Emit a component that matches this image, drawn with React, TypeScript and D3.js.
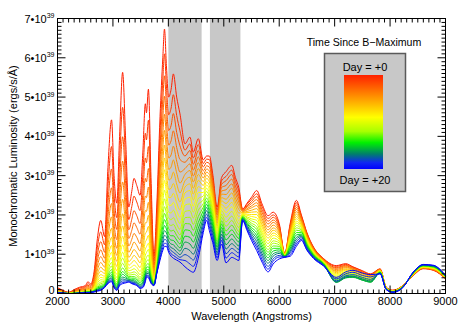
import * as d3 from 'd3'

// wavelength grid (Angstroms), shared by every spectrum
const wavelengths = [2000,2100,2200,2300,2400,2500,2550,2600,2660,2720,2780,2850,2910,2975,3020,3070,3120,3175,3230,3285,3340,3380,3430,3490,3540,3585,3605,3640,3690,3740,3790,3850,3900,3930,3965,4005,4050,4090,4150,4210,4300,4390,4450,4540,4630,4690,4740,4800,4880,4960,5040,5145,5210,5270,5340,5420,5500,5595,5690,5800,5890,6000,6100,6200,6310,6400,6500,6620,6800,7030,7200,7330,7500,7650,7820,7930,8050,8230,8420,8600,8780,9000]

// luminosity in units of 1e39 erg/s/A, one array per day after B max
const day00 = [.15,.08,.03,.10,.16,.20,.30,.24,.55,1.40,1.86,1.45,3.20,4.42,3.00,2.30,4.00,5.63,3.90,2.20,2.60,2.93,2.75,2.50,3.60,4.83,4.60,5.20,2.80,.95,2.20,4.50,6.00,6.73,5.80,5.00,5.20,5.59,5.00,4.57,3.81,3.98,3.60,3.94,3.40,3.50,3.50,3.05,2.20,2.95,3.10,3.26,2.95,2.70,2.15,2.30,2.45,2.62,2.28,1.98,2.07,1.78,1.02,1.80,2.37,2.00,1.55,1.18,.89,.71,.76,.68,.58,.50,.63,.16,.08,.20,.46,.63,.59,.37]
const day01 = [.13,.07,.03,.08,.14,.17,.25,.21,.47,1.18,1.57,1.24,2.71,3.74,2.53,1.93,3.37,4.74,3.30,1.88,2.21,2.48,2.33,2.11,3.03,4.08,3.91,4.41,2.38,.83,1.92,4.08,5.44,6.10,5.28,4.55,4.72,5.06,4.53,4.14,3.65,3.81,3.45,3.79,3.31,3.42,3.41,2.96,2.13,2.87,2.98,3.14,2.85,2.61,2.14,2.27,2.40,2.54,2.21,1.91,2.00,1.74,1.02,1.76,2.31,1.97,1.53,1.17,.88,.69,.74,.67,.57,.49,.62,.16,.08,.20,.46,.64,.60,.38]
const day02 = [.11,.06,.02,.07,.11,.15,.21,.18,.40,.99,1.32,1.05,2.30,3.17,2.13,1.63,2.85,3.99,2.80,1.62,1.89,2.11,1.98,1.78,2.55,3.45,3.33,3.74,2.03,.72,1.68,3.71,4.94,5.54,4.81,4.15,4.28,4.58,4.10,3.76,3.50,3.64,3.29,3.64,3.22,3.34,3.31,2.88,2.06,2.78,2.87,3.03,2.74,2.51,2.12,2.23,2.34,2.47,2.13,1.84,1.94,1.69,1.01,1.72,2.25,1.94,1.51,1.15,.87,.66,.72,.65,.55,.48,.62,.15,.08,.20,.47,.64,.60,.38]
const day03 = [.10,.05,.02,.06,.10,.12,.18,.15,.34,.84,1.11,.90,1.96,2.69,1.80,1.37,2.40,3.37,2.38,1.40,1.61,1.80,1.68,1.51,2.15,2.93,2.84,3.18,1.73,.64,1.49,3.37,4.49,5.02,4.38,3.78,3.89,4.14,3.72,3.41,3.34,3.47,3.14,3.48,3.12,3.25,3.22,2.79,2.00,2.70,2.75,2.91,2.64,2.42,2.11,2.20,2.29,2.39,2.06,1.77,1.87,1.65,1.01,1.67,2.19,1.90,1.48,1.14,.86,.64,.70,.64,.54,.47,.61,.15,.07,.19,.47,.65,.61,.38]
const day04 = [.08,.04,.01,.05,.08,.11,.15,.13,.29,.71,.94,.78,1.67,2.29,1.52,1.15,2.03,2.84,2.02,1.21,1.38,1.53,1.43,1.27,1.81,2.48,2.44,2.71,1.48,.56,1.32,3.07,4.08,4.56,4.00,3.45,3.53,3.75,3.37,3.09,3.18,3.30,2.99,3.33,3.03,3.17,3.12,2.70,1.93,2.61,2.64,2.79,2.54,2.33,2.09,2.16,2.23,2.31,1.98,1.69,1.81,1.60,1.00,1.63,2.14,1.87,1.46,1.12,.85,.61,.68,.62,.53,.46,.60,.15,.07,.19,.48,.65,.62,.39]
const day05 = [.07,.04,.01,.04,.07,.09,.13,.11,.24,.60,.79,.67,1.43,1.95,1.29,.97,1.72,2.40,1.72,1.05,1.19,1.31,1.22,1.08,1.53,2.11,2.09,2.32,1.27,.50,1.18,2.80,3.72,4.15,3.66,3.16,3.22,3.40,3.07,2.81,3.03,3.13,2.84,3.18,2.94,3.09,3.03,2.61,1.86,2.53,2.52,2.68,2.43,2.24,2.08,2.13,2.18,2.24,1.91,1.62,1.74,1.56,1.00,1.59,2.08,1.84,1.44,1.11,.84,.58,.66,.61,.51,.44,.60,.15,.07,.19,.48,.66,.62,.39]
const day06 = [.06,.03,.01,.03,.06,.08,.11,.10,.21,.50,.67,.58,1.23,1.66,1.09,.82,1.46,2.03,1.47,.92,1.03,1.12,1.04,.91,1.29,1.80,1.80,1.99,1.09,.45,1.06,2.55,3.39,3.78,3.35,2.89,2.93,3.09,2.79,2.56,2.87,2.96,2.68,3.03,2.85,3.01,2.93,2.53,1.79,2.44,2.40,2.56,2.33,2.14,2.06,2.09,2.12,2.16,1.84,1.55,1.67,1.51,.99,1.55,2.02,1.81,1.42,1.09,.83,.56,.63,.59,.50,.43,.59,.14,.07,.19,.49,.66,.63,.40]
const day07 = [.06,.03,.01,.03,.05,.07,.10,.09,.18,.43,.57,.51,1.06,1.43,.93,.69,1.24,1.72,1.26,.81,.89,.97,.90,.78,1.09,1.54,1.56,1.71,.95,.41,.96,2.33,3.09,3.45,3.07,2.65,2.68,2.80,2.54,2.33,2.71,2.79,2.53,2.88,2.75,2.93,2.84,2.44,1.72,2.36,2.29,2.44,2.23,2.05,2.05,2.06,2.07,2.08,1.76,1.48,1.61,1.47,.99,1.50,1.96,1.77,1.39,1.08,.82,.53,.61,.57,.48,.42,.58,.14,.06,.18,.49,.67,.64,.40]
const day08 = [.05,.03,.01,.02,.04,.06,.08,.08,.15,.36,.48,.44,.91,1.22,.79,.58,1.05,1.46,1.08,.72,.78,.84,.77,.66,.92,1.32,1.36,1.48,.82,.37,.88,2.14,2.83,3.15,2.82,2.44,2.45,2.55,2.31,2.13,2.56,2.62,2.38,2.72,2.66,2.84,2.74,2.35,1.66,2.27,2.17,2.32,2.12,1.96,2.03,2.02,2.01,2.01,1.69,1.41,1.54,1.42,.98,1.46,1.90,1.74,1.37,1.06,.81,.50,.59,.55,.47,.40,.58,.14,.06,.18,.50,.67,.64,.41]
const day09 = [.04,.02,.01,.02,.04,.05,.07,.07,.13,.31,.41,.39,.79,1.05,.67,.49,.90,1.24,.93,.64,.68,.72,.67,.56,.78,1.13,1.19,1.28,.72,.34,.81,1.96,2.59,2.88,2.59,2.25,2.24,2.32,2.11,1.94,2.40,2.45,2.22,2.57,2.57,2.76,2.65,2.26,1.59,2.19,2.06,2.21,2.02,1.86,2.02,1.99,1.96,1.93,1.61,1.34,1.48,1.38,.98,1.42,1.84,1.71,1.35,1.05,.80,.47,.56,.54,.45,.39,.57,.13,.06,.18,.50,.68,.65,.41]
const day10 = [.04,.02,0,.01,.03,.05,.06,.06,.12,.26,.35,.34,.69,.91,.58,.41,.77,1.05,.81,.58,.60,.63,.58,.48,.66,.98,1.04,1.12,.63,.31,.75,1.80,2.37,2.63,2.39,2.07,2.05,2.12,1.93,1.78,2.25,2.28,2.07,2.42,2.48,2.68,2.55,2.18,1.52,2.11,1.94,2.09,1.92,1.77,2.00,1.95,1.90,1.86,1.54,1.27,1.41,1.33,.97,1.38,1.79,1.68,1.33,1.04,.80,.44,.54,.52,.43,.37,.57,.13,.06,.18,.51,.69,.66,.42]
const day11 = [.04,.02,0,.01,.03,.04,.05,.06,.10,.22,.29,.31,.60,.79,.49,.35,.66,.90,.71,.52,.53,.55,.51,.41,.56,.84,.92,.98,.56,.29,.70,1.65,2.17,2.41,2.21,1.92,1.88,1.93,1.76,1.63,2.09,2.11,1.92,2.27,2.38,2.60,2.46,2.09,1.45,2.02,1.82,1.97,1.81,1.68,1.99,1.92,1.85,1.78,1.47,1.19,1.34,1.29,.97,1.33,1.73,1.64,1.30,1.02,.79,.41,.51,.50,.41,.35,.56,.13,.05,.17,.51,.69,.66,.42]
const day12 = [.03,.02,0,.01,.02,.04,.05,.05,.09,.19,.25,.28,.53,.70,.42,.29,.57,.77,.62,.47,.48,.49,.45,.36,.48,.74,.82,.86,.50,.27,.66,1.52,2.00,2.21,2.04,1.77,1.73,1.76,1.61,1.49,1.93,1.94,1.76,2.12,2.29,2.52,2.36,2.00,1.38,1.94,1.71,1.86,1.71,1.58,1.97,1.88,1.79,1.70,1.39,1.12,1.28,1.24,.96,1.29,1.67,1.61,1.28,1.01,.78,.38,.48,.47,.39,.34,.55,.12,.05,.17,.51,.70,.67,.42]
const day13 = [.03,.02,0,.01,.02,.03,.04,.05,.08,.16,.21,.25,.47,.61,.36,.25,.49,.65,.54,.43,.43,.43,.39,.31,.41,.64,.73,.76,.44,.26,.63,1.40,1.84,2.04,1.90,1.65,1.59,1.61,1.48,1.37,1.78,1.77,1.61,1.96,2.20,2.43,2.27,1.91,1.32,1.85,1.59,1.74,1.61,1.49,1.96,1.85,1.74,1.63,1.32,1.05,1.21,1.20,.96,1.25,1.61,1.58,1.26,.99,.77,.35,.46,.45,.37,.32,.55,.12,.05,.17,.52,.70,.67,.43]
const day14 = [.03,.01,0,.01,.02,.03,.04,.04,.07,.14,.18,.23,.42,.54,.32,.21,.42,.56,.48,.40,.39,.39,.35,.27,.35,.56,.66,.68,.40,.24,.60,1.30,1.70,1.88,1.76,1.53,1.47,1.47,1.36,1.26,1.62,1.60,1.46,1.81,2.11,2.35,2.17,1.83,1.25,1.77,1.48,1.62,1.50,1.40,1.94,1.81,1.68,1.55,1.24,.98,1.15,1.15,.95,1.21,1.55,1.55,1.24,.98,.76,.32,.43,.43,.35,.30,.54,.12,.05,.17,.52,.71,.68,.43]
const day15 = [.03,.01,0,0,.02,.03,.03,.04,.06,.12,.16,.21,.38,.48,.28,.18,.37,.49,.43,.37,.35,.35,.31,.23,.30,.50,.60,.61,.36,.23,.58,1.20,1.57,1.73,1.64,1.43,1.36,1.35,1.25,1.16,1.46,1.43,1.31,1.66,2.01,2.27,2.08,1.74,1.18,1.68,1.36,1.51,1.40,1.31,1.93,1.78,1.63,1.47,1.17,.91,1.08,1.11,.95,1.16,1.49,1.51,1.21,.96,.75,.29,.40,.41,.34,.29,.53,.12,.04,.16,.53,.71,.69,.44]
const day16 = [.02,.01,0,0,.02,.03,.03,.04,.06,.10,.14,.19,.34,.43,.24,.15,.32,.42,.39,.35,.33,.32,.28,.21,.26,.45,.55,.55,.33,.22,.55,1.12,1.46,1.60,1.54,1.34,1.26,1.24,1.15,1.08,1.31,1.26,1.15,1.51,1.92,2.19,1.98,1.65,1.11,1.60,1.24,1.39,1.29,1.21,1.91,1.74,1.57,1.40,1.10,.84,1.01,1.06,.94,1.12,1.43,1.48,1.19,.95,.74,.28,.40,.42,.34,.29,.53,.11,.04,.16,.53,.72,.69,.44]
const day17 = [.02,.01,0,0,.01,.02,.03,.03,.05,.09,.12,.18,.32,.39,.21,.13,.28,.37,.35,.33,.30,.29,.26,.18,.23,.40,.51,.51,.31,.22,.54,1.04,1.35,1.48,1.44,1.25,1.17,1.14,1.06,.99,1.15,1.09,1.00,1.36,1.83,2.11,1.89,1.56,1.04,1.51,1.13,1.27,1.19,1.12,1.90,1.71,1.52,1.32,1.02,.77,.95,1.02,.94,1.08,1.38,1.45,1.17,.93,.73,.30,.42,.44,.37,.32,.52,.11,.04,.16,.54,.72,.70,.45]
const day18 = [.02,.01,0,0,.01,.02,.02,.03,.05,.08,.10,.17,.29,.35,.19,.11,.25,.32,.32,.32,.28,.27,.23,.16,.20,.36,.47,.46,.28,.21,.52,.97,1.26,1.38,1.35,1.18,1.09,1.05,.98,.92,.99,.92,.85,1.20,1.74,2.02,1.79,1.48,.98,1.43,1.01,1.15,1.09,1.03,1.88,1.67,1.46,1.24,.95,.69,.88,.97,.93,1.04,1.32,1.42,1.15,.92,.72,.32,.45,.48,.41,.36,.51,.11,.04,.16,.54,.73,.71,.45]
const day19 = [.02,.01,0,0,.01,.02,.02,.03,.04,.07,.09,.16,.27,.32,.17,.09,.22,.28,.29,.30,.26,.25,.22,.14,.17,.33,.45,.43,.27,.21,.51,.91,1.17,1.28,1.27,1.11,1.01,.97,.91,.86,.84,.75,.69,1.05,1.64,1.94,1.70,1.39,.91,1.35,.90,1.04,.98,.93,1.87,1.64,1.41,1.17,.87,.62,.82,.93,.93,.99,1.26,1.38,1.12,.91,.71,.37,.50,.54,.46,.42,.51,.10,.03,.15,.55,.73,.71,.46]
const day20 = [.02,.01,0,0,.01,.02,.02,.03,.04,.06,.08,.15,.25,.30,.15,.08,.20,.25,.27,.29,.25,.23,.20,.13,.15,.30,.42,.40,.25,.20,.50,.85,1.10,1.20,1.20,1.05,.95,.90,.85,.80,.68,.58,.54,.90,1.55,1.86,1.60,1.30,.84,1.26,.78,.92,.88,.84,1.85,1.60,1.35,1.09,.80,.55,.75,.88,.92,.95,1.20,1.35,1.10,.89,.70,.41,.55,.59,.52,.48,.50,.10,.03,.15,.55,.74,.72,.46]

const spectra = [day00, day01, day02, day03, day04, day05, day06, day07, day08, day09, day10,
  day11, day12, day13, day14, day15, day16, day17, day18, day19, day20]

const xTicks = [2000, 3000, 4000, 5000, 6000, 7000, 8000, 9000]
const yTicks = [0, 1, 2, 3, 4, 5, 6, 7]
// shaded wavelength windows
const bands = [[4000, 4600], [4750, 5300]]

// rainbow used for the days and the colour bar (0 = day 0, 1 = day 20)
const colorStops: [number, string][] = [
  [0, '#ff2000'], [0.22, '#ff8c00'], [0.45, '#ffff00'], [0.6, '#a8ff00'],
  [0.72, '#00f000'], [0.84, '#00806a'], [0.93, '#1028f0'], [1, '#0000ff'],
]

const FONT = '"Liberation Sans", Arial, Helvetica, sans-serif'

export default function App() {
  const width = 463
  const height = 331
  const left = 57.5
  const right = 445.5
  const top = 18.5
  const bottom = 293.5

  const x = d3.scaleLinear().domain([2000, 9000]).range([left, right])
  const y = d3.scaleLinear().domain([0, 7]).range([bottom, top])
  const color = d3
    .scaleLinear<string>()
    .domain(colorStops.map((s) => s[0]))
    .range(colorStops.map((s) => s[1]))

  const line = d3
    .line<number>()
    .x((_, i) => x(wavelengths[i]))
    .y((d) => y(d))
    .curve(d3.curveMonotoneX)

  const xMinor = d3.range(2000, 9001, 100).filter((v) => v % 1000 !== 0)
  const yMinor = d3.range(0, 71).filter((v) => v % 10 !== 0).map((v) => v / 10)

  const major = 8
  const minor = 4

  return (
    <svg width={width} height={height} style={{ position: 'absolute', left: 0, top: 0 }} fontFamily={FONT}>
      <defs>
        <linearGradient id="cbar" x1="0" y1="0" x2="0" y2="1">
          {colorStops.map(([t, c]) => (
            <stop key={t} offset={t} stopColor={c} />
          ))}
        </linearGradient>
      </defs>
      <rect width={width} height={height} fill="#fff" />

      {bands.map(([a, b]) => (
        <rect key={a} x={x(a)} y={top} width={x(b) - x(a)} height={bottom - top} fill="#c8c8c8" />
      ))}

      <g fill="none" strokeWidth={1} strokeLinejoin="round">
        {spectra.map((s, i) => (
          <path key={i} d={line(s) ?? ''} stroke={color(i / (spectra.length - 1))} />
        ))}
      </g>

      {/* frame and ticks on all four sides */}
      <rect x={left} y={top} width={right - left} height={bottom - top} fill="none" stroke="#000" strokeWidth={1} />
      <g stroke="#000" strokeWidth={1}>
        {xTicks.map((v) => (
          <g key={v}>
            <line x1={x(v)} x2={x(v)} y1={bottom} y2={bottom - major} />
            <line x1={x(v)} x2={x(v)} y1={top} y2={top + major} />
          </g>
        ))}
        {xMinor.map((v) => (
          <g key={v}>
            <line x1={x(v)} x2={x(v)} y1={bottom} y2={bottom - minor} />
            <line x1={x(v)} x2={x(v)} y1={top} y2={top + minor} />
          </g>
        ))}
        {yTicks.map((v) => (
          <g key={v}>
            <line x1={left} x2={left + major} y1={y(v)} y2={y(v)} />
            <line x1={right} x2={right - major} y1={y(v)} y2={y(v)} />
          </g>
        ))}
        {yMinor.map((v) => (
          <g key={v}>
            <line x1={left} x2={left + minor} y1={y(v)} y2={y(v)} />
            <line x1={right} x2={right - minor} y1={y(v)} y2={y(v)} />
          </g>
        ))}
      </g>

      <g fontSize={11} fill="#000">
        {xTicks.map((v) => (
          <text key={v} x={x(v)} y={bottom + 11} textAnchor="middle">
            {v}
          </text>
        ))}
        {yTicks.map((v) => (
          <text key={v} x={left - 3} y={v === 0 ? y(v) : y(v) + 4} textAnchor="end">
            {v === 0 ? (
              '0'
            ) : (
              <>
                {`${v}•10`}
                <tspan fontSize={7} dy={-4.5}>
                  39
                </tspan>
              </>
            )}
          </text>
        ))}
        <text x={(left + right) / 2} y={bottom + 26.5} textAnchor="middle">
          Wavelength (Angstroms)
        </text>
        <text transform={`translate(17,${(top + bottom) / 2}) rotate(-90)`} textAnchor="middle">
          Monochromatic Luminosity (ergs/s/Å)
        </text>
      </g>

      {/* legend */}
      <g fontSize={11} fill="#000" textAnchor="middle">
        <text x={364} y={46} fontSize={10.6}>
          Time Since B−Maximum
        </text>
        <rect x={324.5} y={53.5} width={81} height={138} fill="#c8c8c8" stroke="#5a5a5a" strokeWidth={1.5} />
        <text x={365} y={70.5}>Day = +0</text>
        <rect x={344} y={75} width={39} height={94} fill="url(#cbar)" />
        <text x={365} y={183.5}>Day = +20</text>
      </g>
    </svg>
  )
}
